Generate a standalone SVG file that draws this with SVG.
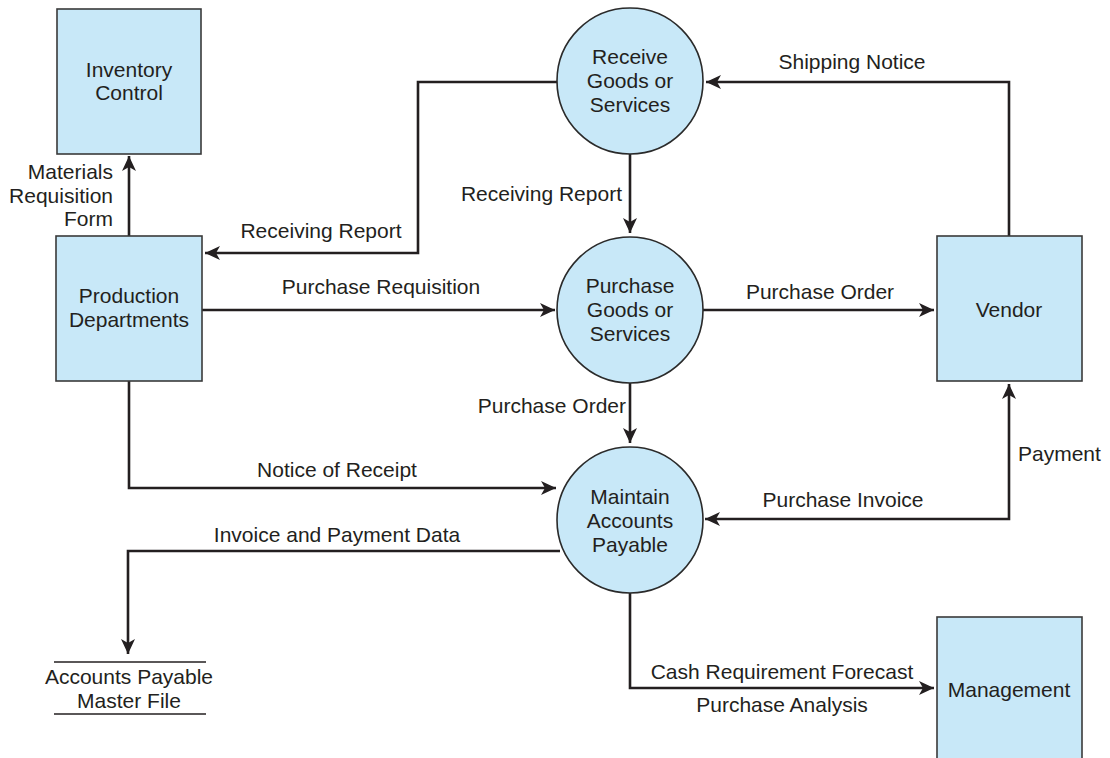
<svg xmlns="http://www.w3.org/2000/svg" width="1110" height="758" viewBox="0 0 1110 758">
<style>
.box{fill:#c8e8f8;stroke:#3a3a3a;stroke-width:1.6}
.proc{fill:#c8e8f8;stroke:#2a2a2a;stroke-width:1.6}
.ln{fill:none;stroke:#231f20;stroke-width:2.6}
.flat{fill:none;stroke:#231f20;stroke-width:1.6}
text{font-family:"Liberation Sans",Arial,sans-serif;font-size:21px;fill:#231f20}
.c{text-anchor:middle}
.e{text-anchor:end}
</style>
<defs>
<marker id="ah" markerUnits="userSpaceOnUse" markerWidth="16" markerHeight="14" viewBox="0 0 16 14" refX="15" refY="7" orient="auto">
<path d="M0,0 L15,7 L0,14 L4,7 z" fill="#231f20"/>
</marker>
<marker id="ahs" markerUnits="userSpaceOnUse" markerWidth="16" markerHeight="14" viewBox="0 0 16 14" refX="15" refY="7" orient="auto-start-reverse">
<path d="M0,0 L15,7 L0,14 L4,7 z" fill="#231f20"/>
</marker>
</defs>
<g id="connectors">
<path class="ln" d="M129,236 V156" marker-end="url(#ah)"/>
<path class="ln" d="M1009,236 V82 H706" marker-end="url(#ah)"/>
<path class="ln" d="M557,82 H418 V253 H205" marker-end="url(#ah)"/>
<path class="ln" d="M630,154 V233" marker-end="url(#ah)"/>
<path class="ln" d="M202,310 H555" marker-end="url(#ah)"/>
<path class="ln" d="M703,310 H934" marker-end="url(#ah)"/>
<path class="ln" d="M630,383 V443" marker-end="url(#ah)"/>
<path class="ln" d="M129,381 V488 H556" marker-end="url(#ah)"/>
<path class="ln" d="M1009,384 V519 H705" marker-start="url(#ahs)" marker-end="url(#ah)"/>
<path class="ln" d="M560,551 H128 V654" marker-end="url(#ah)"/>
<path class="ln" d="M630,593 V688 H934" marker-end="url(#ah)"/>
</g>
<g id="label-materials">
<text class="e" x="113" y="179">Materials</text>
<text class="e" x="113" y="203">Requisition</text>
<text class="e" x="113" y="226">Form</text>
</g>
<g id="flow-labels">
<text class="c" x="852" y="69">Shipping Notice</text>
<text class="c" x="321" y="238">Receiving Report</text>
<text class="e" x="622" y="201">Receiving Report</text>
<text class="c" x="381" y="294">Purchase Requisition</text>
<text class="c" x="820" y="299">Purchase Order</text>
<text class="e" x="626" y="413">Purchase Order</text>
<text x="1018" y="461">Payment</text>
<text class="c" x="337" y="477">Notice of Receipt</text>
<text class="c" x="843" y="507">Purchase Invoice</text>
<text class="c" x="337" y="542">Invoice and Payment Data</text>
<text class="c" x="782" y="679">Cash Requirement Forecast</text>
<text class="c" x="782" y="712">Purchase Analysis</text>
</g>
<g id="inventory-control">
<rect class="box" x="57" y="9" width="144" height="145"/>
<text class="c" x="129" y="77">Inventory</text>
<text class="c" x="129" y="100">Control</text>
</g>
<g id="production-departments">
<rect class="box" x="56" y="236" width="146" height="145"/>
<text class="c" x="129" y="303">Production</text>
<text class="c" x="129" y="327">Departments</text>
</g>
<g id="vendor">
<rect class="box" x="937" y="236" width="145" height="145"/>
<text class="c" x="1009" y="317">Vendor</text>
</g>
<g id="management">
<rect class="box" x="937" y="617" width="145" height="145"/>
<text class="c" x="1009" y="697">Management</text>
</g>
<g id="receive-goods">
<circle class="proc" cx="630" cy="81" r="73"/>
<text class="c" x="630" y="64">Receive</text>
<text class="c" x="630" y="88">Goods or</text>
<text class="c" x="630" y="112">Services</text>
</g>
<g id="purchase-goods">
<circle class="proc" cx="630" cy="310" r="73"/>
<text class="c" x="630" y="293">Purchase</text>
<text class="c" x="630" y="317">Goods or</text>
<text class="c" x="630" y="341">Services</text>
</g>
<g id="maintain-ap">
<circle class="proc" cx="630" cy="520" r="73"/>
<text class="c" x="630" y="504">Maintain</text>
<text class="c" x="630" y="528">Accounts</text>
<text class="c" x="630" y="552">Payable</text>
</g>
<g id="ap-master-file">
<line class="flat" x1="54" y1="662" x2="206" y2="662"/>
<line class="flat" x1="54" y1="714" x2="206" y2="714"/>
<text class="c" x="129" y="684">Accounts Payable</text>
<text class="c" x="129" y="708">Master File</text>
</g>
</svg>
